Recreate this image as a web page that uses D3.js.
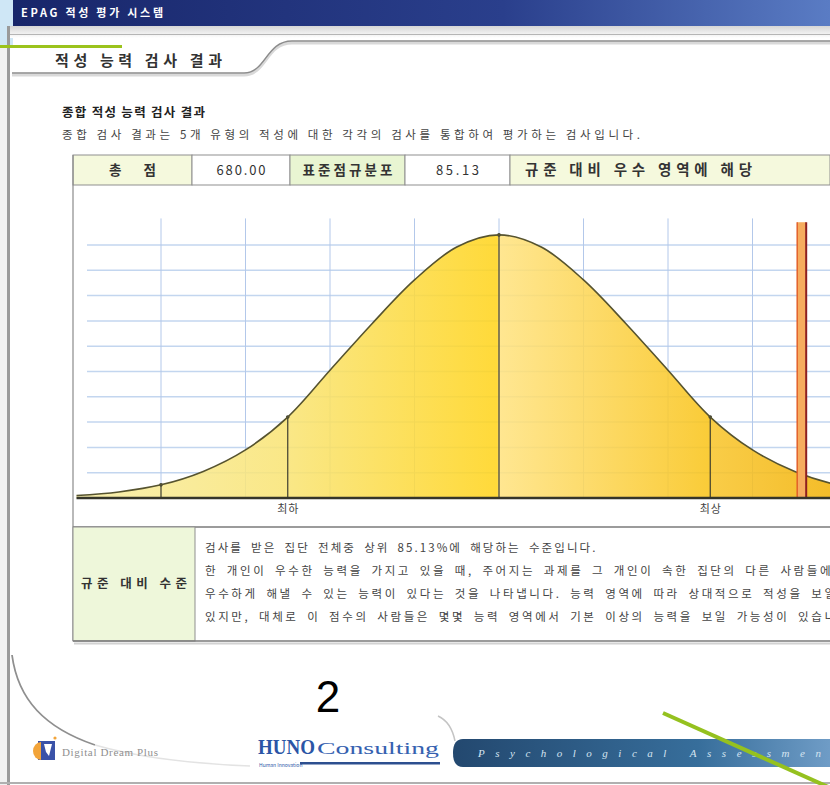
<!DOCTYPE html>
<html>
<head>
<meta charset="utf-8">
<script src="https://cdn.jsdelivr.net/npm/d3@7"></script>
<style>
body { margin: 0; background: #fff; overflow: hidden; }
svg { display: block; }
text { font-family: "Noto Sans CJK KR", "Noto Sans", sans-serif; }
</style>
</head>
<body>
<svg width="830" height="785"></svg>
<script>
// values
var windowTitle = 'EPAG 적성 평가 시스템';
var tabTitle = '적성 능력 검사 결과';
var heading = '종합 적성 능력 검사 결과';
var subText = '종합 검사 결과는 5개 유형의 적성에 대한 각각의 검사를 통합하여 평가하는 검사입니다.';

var headerLabels = ['총  점', '680.00', '표준점규분포', '85.13', '규준 대비 우수 영역에 해당'];
var headerKinds = ['label', 'value', 'label', 'value', 'label'];

var totalScore = 680;
// score on x, relative height (grid units) on y
var curveScores = [250, 275, 300, 325, 350, 375, 400, 425, 450, 475, 500, 525, 550, 575, 600, 625, 650, 675, 700, 725, 750];
var curveHeights = [0.10, 0.24, 0.52, 1.05, 1.90, 3.20, 5.05, 6.90, 8.62, 9.92, 10.40, 9.92, 8.62, 6.90, 5.05, 3.20, 1.90, 1.05, 0.52, 0.24, 0.10];
var gridScores = [300, 350, 400, 450, 500, 550, 600, 650, 700];
var gridLevels = [1, 2, 3, 4, 5, 6, 7, 8, 9, 10];
var cutScores = [300, 375, 500, 625, 700];
var labelScores = [375, 625];
var labelTexts = ['최하', '최상'];

var levelLabel = '규준 대비 수준';
var levelLines = [
	'검사를 받은 집단 전체중 상위 85.13%에 해당하는 수준입니다.',
	'한 개인이 우수한 능력을 가지고 있을 때, 주어지는 과제를 그 개인이 속한 집단의 다른 사람들에 비해',
	'우수하게 해낼 수 있는 능력이 있다는 것을 나타냅니다. 능력 영역에 따라 상대적으로 적성을 보일 수',
	'있지만, 대체로 이 점수의 사람들은 몇몇 능력 영역에서 기본 이상의 능력을 보일 가능성이 있습니다.'
];
var pageNumber = '2';

function main() {
	var svg = d3.select('svg');
	var defs = svg.append('defs');

	var barGrad = defs.append('linearGradient').attr('id', 'barGrad');
	barGrad.append('stop').attr('offset', '0%').attr('stop-color', '#18266a');
	barGrad.append('stop').attr('offset', '60%').attr('stop-color', '#2a3f8c');
	barGrad.append('stop').attr('offset', '100%').attr('stop-color', '#5a7cc4');

	var bandGrad = defs.append('linearGradient').attr('id', 'bandGrad')
		.attr('x1', 0).attr('x2', 0).attr('y1', 0).attr('y2', 1);
	bandGrad.append('stop').attr('offset', '0%').attr('stop-color', '#d6d6d6');
	bandGrad.append('stop').attr('offset', '100%').attr('stop-color', '#ffffff');

	var bannerGrad = defs.append('linearGradient').attr('id', 'bannerGrad');
	bannerGrad.append('stop').attr('offset', '0%').attr('stop-color', '#23486f');
	bannerGrad.append('stop').attr('offset', '65%').attr('stop-color', '#376e9b');
	bannerGrad.append('stop').attr('offset', '100%').attr('stop-color', '#6f9cc6');

	// window frame
	svg.append('rect').attr('x', 0).attr('y', 0).attr('width', 13).attr('height', 47).attr('fill', '#cfe7f6');
	svg.append('rect').attr('x', 0).attr('y', 47).attr('width', 7).attr('height', 738).attr('fill', '#f1f1f1');
	svg.append('rect').attr('x', 7).attr('y', 26).attr('width', 3).attr('height', 759).attr('fill', '#9a9a9a');
	svg.append('rect').attr('x', 13).attr('y', 0).attr('width', 817).attr('height', 26).attr('fill', 'url(#barGrad)');
	svg.append('text').attr('x', 21).attr('y', 17).attr('fill', '#fff')
		.style('font-size', '11px').style('font-weight', 'bold')
		.attr('textLength', 142).attr('lengthAdjust', 'spacing')
		.text(windowTitle);
	svg.append('rect').attr('x', 10).attr('y', 26).attr('width', 820).attr('height', 12).attr('fill', 'url(#bandGrad)');
	svg.append('line').attr('x1', 10).attr('x2', 830).attr('y1', 34.5).attr('y2', 34.5)
		.attr('stroke', '#b5b5b5');

	// tab
	svg.append('path')
		.attr('d', 'M12,73 H244 C266,73 266,41 292,41 H830')
		.attr('fill', 'none').attr('stroke', '#d9d9d9').attr('stroke-width', 3)
		.attr('transform', 'translate(0,2)');
	svg.append('path')
		.attr('d', 'M12,73 H244 C266,73 266,41 292,41 H830')
		.attr('fill', 'none').attr('stroke', '#8c8c8c').attr('stroke-width', 1.3);
	svg.append('text').attr('x', 55).attr('y', 66).attr('fill', '#333')
		.style('font-size', '15px').style('font-weight', 'bold')
		.attr('textLength', 167).attr('lengthAdjust', 'spacing')
		.text(tabTitle);

	// green accent line top left
	svg.append('line').attr('x1', 0).attr('x2', 122).attr('y1', 46.5).attr('y2', 46.5)
		.attr('stroke', '#9bc31c').attr('stroke-width', 3);

	svg.append('text').attr('x', 62).attr('y', 117).attr('fill', '#222')
		.style('font-size', '12.5px').style('font-weight', 'bold')
		.attr('textLength', 143).attr('lengthAdjust', 'spacing')
		.text(heading);
	svg.append('text').attr('x', 62).attr('y', 139).attr('fill', '#444')
		.style('font-size', '11.5px')
		.attr('textLength', 578).attr('lengthAdjust', 'spacing')
		.text(subText);

	// header row of the table
	var cellEdges = [73, 192, 290, 405, 510, 830];
	var head = svg.append('g');
	head.selectAll('rect').data(headerLabels).enter().append('rect')
		.attr('x', function(d, i) { return cellEdges[i]; })
		.attr('y', 155)
		.attr('width', function(d, i) { return cellEdges[i + 1] - cellEdges[i]; })
		.attr('height', 30)
		.attr('fill', function(d, i) { return headerKinds[i] == 'label' ? (i == 2 ? '#e9f5d2' : '#f5f9dd') : '#fff'; })
		.attr('stroke', '#8f8f8f');
	var headLen = [47, 49, 90, 43, 227];
	var headSize = ['13.5px', '13px', '13.5px', '13px', '14.5px'];
	head.selectAll('text').data(headerLabels).enter().append('text')
		.attr('x', function(d, i) { return i == 4 ? 525 : (cellEdges[i] + cellEdges[i + 1]) / 2; })
		.attr('y', 175)
		.attr('text-anchor', function(d, i) { return i == 4 ? 'start' : 'middle'; })
		.attr('fill', '#333')
		.style('font-size', function(d, i) { return headSize[i]; })
		.style('font-weight', function(d, i) { return headerKinds[i] == 'label' ? 'bold' : 'normal'; })
		.attr('textLength', function(d, i) { return headLen[i]; })
		.attr('lengthAdjust', 'spacing')
		.text(function(d) { return d; });

	// chart
	var x = d3.scaleLinear().domain([250, 750]).range([76.5, 921.5]);
	var y = d3.scaleLinear().domain([0, 11]).range([498, 219.7]);

	defs.append('clipPath').attr('id', 'chartClip').append('rect')
		.attr('x', 74).attr('y', 186).attr('width', 756).attr('height', 340);

	var fillGrad = defs.append('linearGradient').attr('id', 'fillGrad')
		.attr('gradientUnits', 'userSpaceOnUse')
		.attr('x1', x(250)).attr('x2', x(750)).attr('y1', 0).attr('y2', 0);
	var stops = [[250, '#f7eda4'], [375, '#f9e475'], [499, '#ffd41c'], [500, '#ffe381'],
		[625, '#f9c41a'], [626, '#f8c52c'], [700, '#f2b208'], [750, '#f0a800']];
	stops.forEach(function(s) {
		fillGrad.append('stop').attr('offset', ((s[0] - 250) / 500 * 100) + '%').attr('stop-color', s[1]);
	});

	var chart = svg.append('g').attr('clip-path', 'url(#chartClip)');
	var curveData = curveScores.map(function(s, i) { return { s: s, h: curveHeights[i] }; });

	chart.selectAll('.hgrid').data(gridLevels).enter().append('line')
		.attr('class', 'hgrid')
		.attr('x1', 87).attr('x2', 830)
		.attr('y1', function(d) { return y(d); }).attr('y2', function(d) { return y(d); })
		.attr('stroke', '#c3d6ef').attr('stroke-width', 1.5);
	chart.selectAll('.vgrid').data(gridScores).enter().append('line')
		.attr('class', 'vgrid')
		.attr('x1', function(d) { return x(d); }).attr('x2', function(d) { return x(d); })
		.attr('y1', y(11.05)).attr('y2', y(0))
		.attr('stroke', '#b3c8ea').attr('stroke-width', 1);

	var area = d3.area()
		.x(function(d) { return x(d.s); })
		.y0(y(0))
		.y1(function(d) { return y(d.h); })
		.curve(d3.curveCatmullRom);
	var line = d3.line()
		.x(function(d) { return x(d.s); })
		.y(function(d) { return y(d.h); })
		.curve(d3.curveCatmullRom);

	chart.append('path').datum(curveData).attr('d', area)
		.attr('fill', 'url(#fillGrad)').attr('fill-opacity', 0.87);

	chart.selectAll('.cut').data(cutScores).enter().append('line')
		.attr('class', 'cut')
		.attr('x1', function(d) { return x(d); }).attr('x2', function(d) { return x(d); })
		.attr('y1', y(0))
		.attr('y2', function(d) { return y(curveHeights[curveScores.indexOf(d)]); })
		.attr('stroke', '#3d3d30').attr('stroke-width', 1.2);
	chart.selectAll('.dot').data(cutScores).enter().append('circle')
		.attr('class', 'dot')
		.attr('cx', function(d) { return x(d); })
		.attr('cy', function(d) { return y(curveHeights[curveScores.indexOf(d)]); })
		.attr('r', 1.8).attr('fill', '#3d3d30');

	chart.append('path').datum(curveData).attr('d', line)
		.attr('fill', 'none').attr('stroke', '#56532f').attr('stroke-width', 1.6);

	// score marker
	chart.append('rect')
		.attr('x', x(totalScore) - 6).attr('y', y(10.9))
		.attr('width', 9).attr('height', y(0) - y(10.9))
		.attr('fill', '#f6ac5e');
	chart.append('line')
		.attr('x1', x(totalScore) - 6).attr('x2', x(totalScore) - 6)
		.attr('y1', y(10.9)).attr('y2', y(0))
		.attr('stroke', '#e2602a').attr('stroke-width', 1.5);
	chart.append('line')
		.attr('x1', x(totalScore) + 3).attr('x2', x(totalScore) + 3)
		.attr('y1', y(10.9)).attr('y2', y(0))
		.attr('stroke', '#8e1f1f').attr('stroke-width', 2);

	chart.append('line').attr('x1', x(250)).attr('x2', 830)
		.attr('y1', y(0)).attr('y2', y(0))
		.attr('stroke', '#35352a').attr('stroke-width', 2.5);

	chart.selectAll('.lab').data(labelScores).enter().append('text')
		.attr('class', 'lab')
		.attr('x', function(d) { return x(d); })
		.attr('y', 513)
		.attr('text-anchor', 'middle')
		.attr('fill', '#444')
		.style('font-size', '11px')
		.attr('textLength', 21).attr('lengthAdjust', 'spacing')
		.text(function(d, i) { return labelTexts[i]; });

	// table frame
	svg.append('line').attr('x1', 73).attr('x2', 73).attr('y1', 155).attr('y2', 641)
		.attr('stroke', '#8a8a8a').attr('stroke-width', 1.2);
	svg.append('line').attr('x1', 73).attr('x2', 830).attr('y1', 527).attr('y2', 527)
		.attr('stroke', '#7a7a7a').attr('stroke-width', 1.5);

	// bottom row
	svg.append('rect').attr('x', 73).attr('y', 527).attr('width', 122).attr('height', 114)
		.attr('fill', '#eef7da').attr('stroke', '#8f8f8f');
	svg.append('text').attr('x', 134).attr('y', 588).attr('text-anchor', 'middle')
		.attr('fill', '#333').style('font-size', '12.5px').style('font-weight', 'bold')
		.attr('textLength', 106).attr('lengthAdjust', 'spacing')
		.text(levelLabel);
	svg.selectAll('.lvl').data(levelLines).enter().append('text')
		.attr('class', 'lvl')
		.attr('x', 205)
		.attr('y', function(d, i) { return 552 + i * 23; })
		.attr('fill', '#444')
		.style('font-size', '11.5px')
		.style('letter-spacing', '2.6px')
		.style('word-spacing', '3.5px')
		.attr('textLength', function(d, i) { return i == 0 ? 393 : null; })
		.attr('lengthAdjust', 'spacing')
		.text(function(d) { return d; });
	svg.append('line').attr('x1', 73).attr('x2', 830).attr('y1', 641).attr('y2', 641)
		.attr('stroke', '#7a7a7a').attr('stroke-width', 1.5);
	svg.append('line').attr('x1', 74).attr('x2', 830).attr('y1', 643.5).attr('y2', 643.5)
		.attr('stroke', '#d2d2d2').attr('stroke-width', 2);

	// footer
	svg.append('path').attr('d', 'M12,655 C18,700 45,728 95,745')
		.attr('fill', 'none').attr('stroke', '#8f8f8f').attr('stroke-width', 1.8);
	svg.append('path').attr('d', 'M95,745 C140,758 200,764 250,766')
		.attr('fill', 'none').attr('stroke', '#e3e3e3').attr('stroke-width', 1.5);

	svg.append('text').attr('x', 328).attr('y', 712).attr('text-anchor', 'middle')
		.attr('fill', '#000')
		.style('font-family', '"Liberation Sans Narrow", "Liberation Sans", sans-serif')
		.style('font-size', '44px')
		.text(pageNumber);

	var logo = svg.append('g');
	logo.append('path').attr('d', 'M38,741 H55 V760 H38 Z').attr('fill', '#3a52a8');
	logo.append('path').attr('d', 'M41,742 A8,9 0 0 0 41,760 Z').attr('fill', '#f2a43a');
	logo.append('path').attr('d', 'M44,744 L52,744 L49,756 L46,752 Z').attr('fill', '#fff');
	logo.append('circle').attr('cx', 55).attr('cy', 738).attr('r', 1.6).attr('fill', '#f2a43a');
	svg.append('text').attr('x', 62).attr('y', 756).attr('fill', '#8f8f8f')
		.style('font-family', '"Liberation Serif", serif').style('font-size', '11px')
		.attr('textLength', 96).attr('lengthAdjust', 'spacing')
		.text('Digital Dream Plus');

	svg.append('text').attr('x', 258).attr('y', 754).attr('fill', '#2b55a6')
		.style('font-family', '"Liberation Serif", serif').style('font-size', '21px').style('font-weight', 'bold')
		.attr('textLength', 57).attr('lengthAdjust', 'spacingAndGlyphs')
		.text('HUNO');
	svg.append('text').attr('x', 317).attr('y', 754).attr('fill', '#3561b0')
		.style('font-family', '"Liberation Serif", serif').style('font-size', '17px')
		.attr('textLength', 122).attr('lengthAdjust', 'spacingAndGlyphs')
		.text('Consulting');
	svg.append('text').attr('x', 259).attr('y', 767).attr('fill', '#2b55a6')
		.style('font-size', '5px')
		.text('Human Innovation');
	svg.append('rect').attr('x', 300).attr('y', 762).attr('width', 140).attr('height', 2.5).attr('fill', '#2d4f8f');

	svg.append('path').attr('d', 'M438,716 C449,721 453,731 455,741')
		.attr('fill', 'none').attr('stroke', '#c4c4c4').attr('stroke-width', 1.5);
	svg.append('path').attr('d', 'M463,739 H830 V767 H463 Q453,767 453,753 Q453,739 463,739 Z')
		.attr('fill', 'url(#bannerGrad)');
	svg.append('text').attr('x', 478).attr('y', 757).attr('fill', '#d6e4f1')
		.style('font-family', '"Liberation Serif", serif').style('font-size', '11px')
		.style('font-style', 'italic').style('letter-spacing', '10.5px')
		.text('Psychological  Assessment');

	svg.append('line').attr('x1', 0).attr('x2', 830).attr('y1', 783).attr('y2', 783)
		.attr('stroke', '#b0b0b0').attr('stroke-width', 2);

	svg.append('line').attr('x1', 663).attr('y1', 713).attr('x2', 835).attr('y2', 790)
		.attr('stroke', '#95c11f').attr('stroke-width', 4);
}
main();
</script>
</body>
</html>
